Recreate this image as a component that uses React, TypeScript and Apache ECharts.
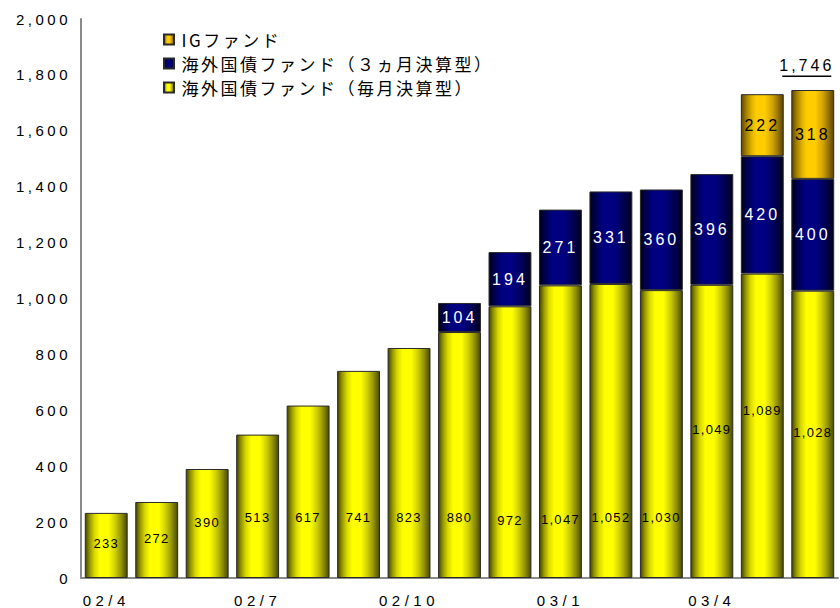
import React, { useEffect, useRef } from "react";
import * as echarts from "echarts";

const months = ["02/4", "02/5", "02/6", "02/7", "02/8", "02/9", "02/10", "02/11", "02/12", "03/1", "03/2", "03/3", "03/4", "03/5", "03/6"];
const monthlyFund = [233, 272, 390, 513, 617, 741, 823, 880, 972, 1047, 1052, 1030, 1049, 1089, 1028];
const quarterlyFund: (number | null)[] = [null, null, null, null, null, null, null, 104, 194, 271, 331, 360, 396, 420, 400];
const igFund: (number | null)[] = [null, null, null, null, null, null, null, null, null, null, null, null, null, 222, 318];
// value level (in axis units) at which each monthly label sits
const monthlyLabelAt = [122, 140, 200, 215, 218, 218, 215, 218, 207, 211, 215, 215, 530, 598, 519];

const nameIG = "IGファンド";
const nameQ = "海外国債ファンド（３ヵ月決算型）";
const nameM = "海外国債ファンド（毎月決算型）";

const fmt = (v: number) => v.toLocaleString("en-US");

const css = `
#chartbox text[style*="ytag"]{letter-spacing:3.5px}
#chartbox text[style*="xtag"]{letter-spacing:4.5px}
#chartbox text[style*="lsmall"]{letter-spacing:1.3px}
#chartbox text[style*="lbig"]{letter-spacing:3px}
#chartbox text[style*="legtag"]{letter-spacing:2.5px}
`;

export default function App() {
  const ref = useRef<HTMLDivElement>(null);
  useEffect(() => {
    if (!ref.current) return;
    const chart = echarts.init(ref.current, undefined, { renderer: "svg" });
    const yellow = new echarts.graphic.LinearGradient(0, 0, 1, 0, [
      { offset: 0, color: "#444400" },
      { offset: 0.1, color: "#929200" },
      { offset: 0.22, color: "#d8d800" },
      { offset: 0.35, color: "#ffff00" },
      { offset: 0.55, color: "#ffff00" },
      { offset: 0.72, color: "#cccc00" },
      { offset: 0.87, color: "#8c8c00" },
      { offset: 1, color: "#484800" },
    ]);
    const blue = new echarts.graphic.LinearGradient(0, 0, 1, 0, [
      { offset: 0, color: "#000018" },
      { offset: 0.12, color: "#00004a" },
      { offset: 0.3, color: "#000080" },
      { offset: 0.58, color: "#000080" },
      { offset: 0.85, color: "#000048" },
      { offset: 1, color: "#00001a" },
    ]);
    const gold = new echarts.graphic.LinearGradient(0, 0, 1, 0, [
      { offset: 0, color: "#5a4500" },
      { offset: 0.1, color: "#9c7800" },
      { offset: 0.25, color: "#e0b400" },
      { offset: 0.36, color: "#ffcc00" },
      { offset: 0.56, color: "#ffcc00" },
      { offset: 0.74, color: "#d2a400" },
      { offset: 0.88, color: "#947200" },
      { offset: 1, color: "#574300" },
    ]);
    const border = { borderColor: "#2a2a2a", borderWidth: 1 };
    const total = monthlyFund[monthlyFund.length - 1] + (quarterlyFund[quarterlyFund.length - 1] || 0) + (igFund[igFund.length - 1] || 0);

    chart.setOption({
      animation: false,
      grid: { left: 81, right: 2, top: 19, bottom: 30, containLabel: false },
      legend: {
        data: [nameIG, nameQ, nameM],
        orient: "vertical",
        left: 163,
        top: 31,
        padding: 0,
        itemGap: 7,
        itemWidth: 15,
        itemHeight: 10,
        icon: "path://M0,0H10V10H0Z",
        selectedMode: false,
        textStyle: { fontSize: 17, color: "#000", fontFamily: 'legtag, "Noto Sans CJK JP", sans-serif' },
      },
      xAxis: {
        type: "category",
        data: months,
        axisLine: { lineStyle: { color: "#8a8a8a", width: 2 } },
        axisTick: { show: false },
        axisLabel: { interval: 2, margin: 15, fontSize: 15, color: "#000", fontFamily: 'xtag, "Liberation Sans", sans-serif' },
      },
      yAxis: {
        type: "value",
        min: 0,
        max: 2000,
        interval: 200,
        splitLine: { show: false },
        axisTick: { show: false },
        axisLine: { show: true, lineStyle: { color: "#8a8a8a", width: 2 } },
        axisLabel: { margin: 10, fontSize: 15, color: "#000", fontFamily: 'ytag, "Liberation Sans", sans-serif', formatter: (v: number) => fmt(v) },
      },
      series: [
        {
          name: nameM,
          type: "bar",
          stack: "total",
          barCategoryGap: "15%",
          itemStyle: { color: yellow, ...border },
          label: { show: true, fontSize: 13, color: "#000", fontFamily: 'lsmall, "Liberation Sans", sans-serif', formatter: (p: any) => fmt(p.value) },
          data: monthlyFund.map((v, i) => ({
            value: v,
            label: {
              position: ["50%", `${((v - monthlyLabelAt[i]) / v) * 100}%`],
              align: "center",
              verticalAlign: "middle",
            },
          })),
        },
        {
          name: nameQ,
          type: "bar",
          stack: "total",
          itemStyle: { color: blue, ...border },
          label: { show: true, position: "inside", fontSize: 16, color: "#fff", fontFamily: 'lbig, "Liberation Sans", sans-serif', formatter: (p: any) => fmt(p.value) },
          data: quarterlyFund.map((v) => (v == null ? "-" : v)),
        },
        {
          name: nameIG,
          type: "bar",
          stack: "total",
          itemStyle: { color: gold, ...border },
          label: { show: true, position: "inside", fontSize: 16, color: "#000", fontFamily: 'lbig, "Liberation Sans", sans-serif', formatter: (p: any) => fmt(p.value) },
          data: igFund.map((v) => (v == null ? "-" : v)),
        },
        {
          name: "合計",
          type: "bar",
          stack: "total",
          silent: true,
          itemStyle: { color: "rgba(0,0,0,0)", borderWidth: 0 },
          label: {
            show: true,
            position: "top",
            distance: 13,
            offset: [-6, 0],
            formatter: () => `{t|${fmt(total)}}\n{u|}`,
            rich: {
              t: { fontSize: 16, color: "#000", lineHeight: 20, fontFamily: 'lbig, "Liberation Sans", sans-serif' },
              u: { width: 49, height: 1.5, lineHeight: 1.5, backgroundColor: "#000" },
            },
          },
          data: months.map((_, i) => (i === months.length - 1 ? 0 : "-")),
        },
      ],
    });
    return () => chart.dispose();
  }, []);
  return (
    <div style={{ position: "absolute", left: 0, top: 0, width: 840, height: 608, background: "#fff" }}>
      <style>{css}</style>
      <div id="chartbox" ref={ref} style={{ width: 840, height: 608 }} />
    </div>
  );
}
